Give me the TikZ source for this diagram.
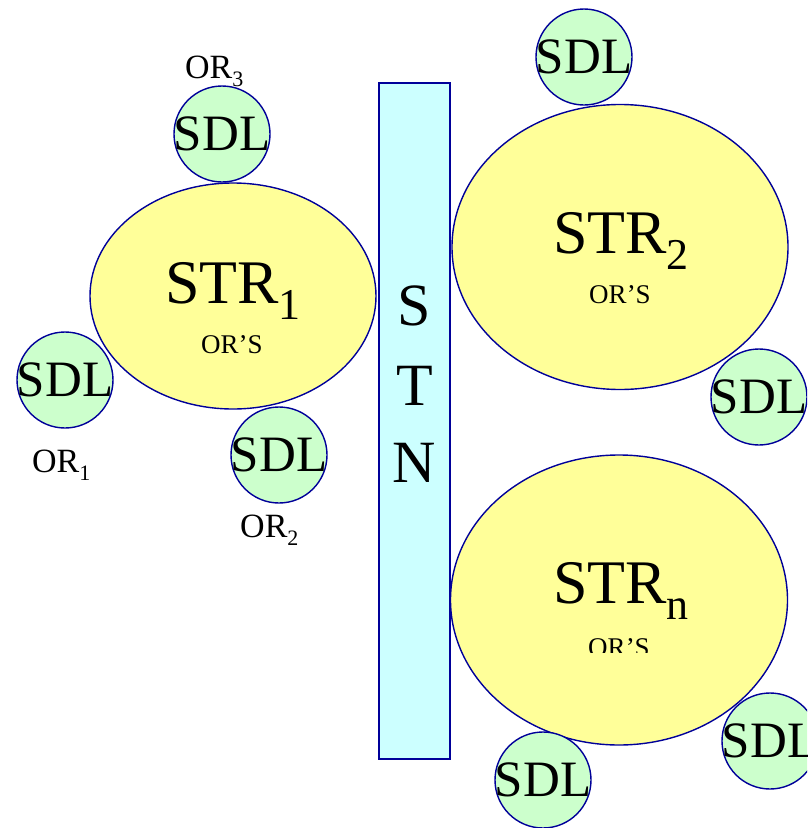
\documentclass[tikz,border=0pt]{standalone}
\usepackage{fontspec}
\setmainfont{Liberation Serif}
\usetikzlibrary{shapes.geometric}

\definecolor{edgeblue}{HTML}{000099}
\definecolor{stryellow}{HTML}{FFFF99}
\definecolor{sdlgreen}{HTML}{CCFFCC}
\definecolor{stncyan}{HTML}{CCFFFF}
\newcommand{\fsz}[1]{\fontsize{#1}{#1}\selectfont}
\newcommand{\strname}[1]{STR\raisebox{-16pt}{\fsz{44}#1}}
\newcommand{\orname}[1]{OR\raisebox{-8pt}{\fsz{22}#1}}

\begin{document}
\begin{tikzpicture}[x=1pt,y=-1pt,
  str/.style={ellipse,draw=edgeblue,fill=stryellow,line width=1.4pt,inner sep=0pt},
  sdl/.style={circle,draw=edgeblue,fill=sdlgreen,line width=1.4pt,inner sep=0pt,minimum size=96pt,
    label={[inner sep=0pt,font=\fsz{51}]center:SDL}},
  big/.style={anchor=base west,inner sep=0pt,font=\fsz{62}},
  ors/.style={anchor=base,inner sep=0pt,font=\fsz{27}},
  orl/.style={anchor=base west,inner sep=0pt,font=\fsz{34}},
  stnl/.style={anchor=base,inner sep=0pt,font=\fsz{60}}]
  \useasboundingbox (0,0) rectangle (807,828);
  \clip (0,0) rectangle (807,828);

  % transport network
  \node[draw=edgeblue,fill=stncyan,line width=1.8pt,minimum width=71pt,minimum height=676pt,inner sep=0pt] (stn) at (414.5,421) {};
  \node[stnl] (stns) at (stn.center |- 0,325) {S};
  \node[stnl] (stnt) at (stn.center |- 0,405) {T};
  \node[stnl] (stnn) at (stn.center |- 0,482) {N};

  % sites
  \node[str,minimum width=286pt,minimum height=226pt] (str1) at (233,296) {};
  \node[str,minimum width=336pt,minimum height=285pt] (str2) at (620,247) {};
  \node[str,minimum width=337pt,minimum height=290pt] (strn) at (619,600) {};

  \node[big] (str1lab) at (165,303) {\strname{1}};
  \node[ors] (str1or) at (232,353) {OR'S};
  \node[big] (str2lab) at (553,253) {\strname{2}};
  \node[ors] (str2or) at (620,303) {OR'S};
  \node[big] (strnlab) at (553,603) {\strname{n}};
  \begin{scope}
    \clip (540,600) rectangle (700,652);
    \node[ors] (strnor) at (619,656) {OR'S};
  \end{scope}

  % SDL circles
  \node[sdl] (sdl3) at (222,134) {};
  \node[sdl] (sdl1) at (65,380) {};
  \node[sdl] (sdl2) at (279,455) {};
  \node[sdl] (sdl2a) at (584,57) {};
  \node[sdl] (sdl2b) at (759,397) {};
  \node[sdl] (sdlna) at (770,741) {};
  \node[sdl] (sdlnb) at (543,780) {};

  \node[orl] (or3) at (185,78) {\orname{3}};
  \node[orl] (or1) at (32,472) {\orname{1}};
  \node[orl] (or2) at (240,537) {\orname{2}};
\end{tikzpicture}
\end{document}
